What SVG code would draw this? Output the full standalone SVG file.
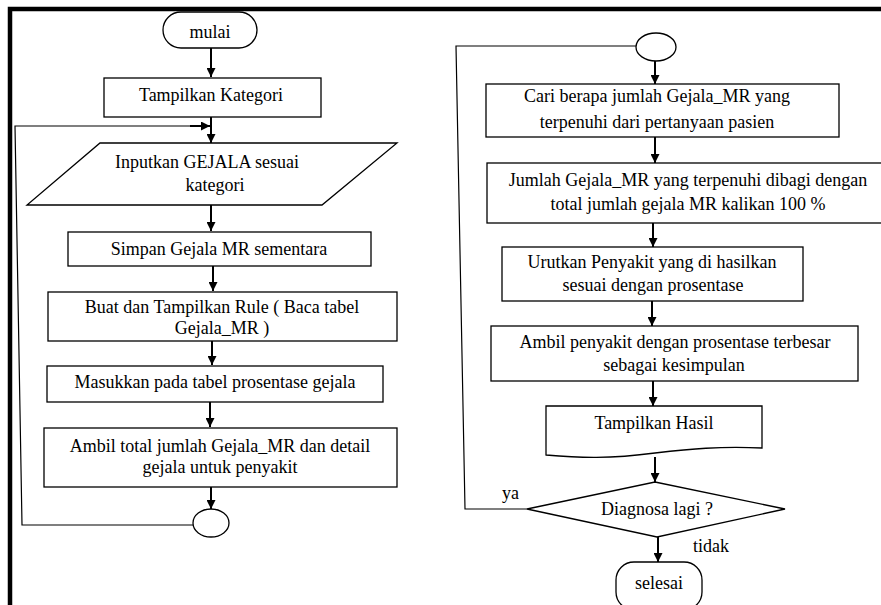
<svg xmlns="http://www.w3.org/2000/svg" width="881" height="605" viewBox="0 0 881 605">
<defs>
<marker id="ah" viewBox="0 0 10 10" markerUnits="userSpaceOnUse" markerWidth="10" markerHeight="9" refX="10" refY="5" orient="auto">
<path d="M0,0 L10,5 L0,10 Z" fill="#000"/>
</marker>
<style>
.box{fill:#fff;stroke:#000;stroke-width:1.3}
.t{font-family:"Liberation Serif","Times New Roman",serif;font-size:18px;fill:#000;text-anchor:middle}
.tl{font-family:"Liberation Serif","Times New Roman",serif;font-size:18px;fill:#000}
.ar{fill:none;stroke:#000;stroke-width:2;marker-end:url(#ah)}
.ln{fill:none;stroke:#000;stroke-width:1.2}
.bd{fill:none;stroke:#000;stroke-width:4.5}
</style>
</defs>
<rect width="881" height="605" fill="#fff"/>
<path class="bd" d="M10,605 V9 H881"/>

<g id="connectors">
<line class="ar" x1="211" y1="48" x2="211" y2="77"/>
<line class="ar" x1="211" y1="117" x2="211" y2="143"/>
<path class="ln" d="M193,525 H22 L15,126 H200"/>
<line class="ar" x1="190" y1="126" x2="210" y2="126"/>
<line class="ar" x1="211" y1="205" x2="211" y2="231"/>
<line class="ar" x1="213" y1="266" x2="213" y2="291"/>
<line class="ar" x1="212" y1="341" x2="212" y2="365"/>
<line class="ar" x1="210" y1="402" x2="210" y2="427"/>
<line class="ar" x1="211" y1="487" x2="211" y2="509"/>

<path class="ln" d="M527,509 H465 L456,46 H636"/>
<line class="ar" x1="655" y1="61" x2="655" y2="84"/>
<line class="ar" x1="655" y1="137" x2="655" y2="163"/>
<line class="ar" x1="653" y1="223" x2="653" y2="247"/>
<line class="ar" x1="652" y1="301" x2="652" y2="326"/>
<line class="ar" x1="653" y1="381" x2="653" y2="406"/>
<line class="ar" x1="655" y1="457" x2="655" y2="482"/>
<line class="ar" x1="658" y1="537" x2="658" y2="562"/>
</g>

<g id="mulai">
<rect class="box" x="163" y="12" width="94" height="36" rx="18"/>
<text class="t" x="210" y="38">mulai</text>
</g>
<g id="tampilkan-kategori">
<rect class="box" x="104" y="78" width="217" height="39"/>
<text class="t" x="211" y="101">Tampilkan Kategori</text>
</g>
<g id="inputkan-gejala">
<polygon class="box" points="100,143 397,143 322,205 27,205"/>
<text class="t" x="207" y="168">Inputkan GEJALA sesuai</text>
<text class="t" x="215" y="191">kategori</text>
</g>
<g id="simpan">
<rect class="box" x="68" y="232" width="303" height="34"/>
<text class="t" x="219" y="255">Simpan Gejala MR sementara</text>
</g>
<g id="buat-rule">
<rect class="box" x="48" y="292" width="349" height="49"/>
<text class="t" x="222" y="313">Buat dan Tampilkan Rule ( Baca tabel</text>
<text class="t" x="222" y="334">Gejala_MR )</text>
</g>
<g id="masukkan">
<rect class="box" x="47" y="366" width="336" height="36"/>
<text class="t" x="215" y="388">Masukkan pada tabel prosentase gejala</text>
</g>
<g id="ambil-total">
<rect class="box" x="44" y="428" width="353" height="59"/>
<text class="t" x="220" y="452">Ambil total jumlah Gejala_MR dan detail</text>
<text class="t" x="220" y="473">gejala untuk penyakit</text>
</g>
<g id="connector-left">
<ellipse class="box" cx="211" cy="523" rx="18" ry="14"/>
</g>

<g id="connector-right">
<ellipse class="box" cx="656" cy="47" rx="20" ry="14"/>
</g>
<g id="cari">
<rect class="box" x="486" y="84" width="353" height="53"/>
<text class="t" x="657" y="102">Cari berapa jumlah Gejala_MR yang</text>
<text class="t" x="657" y="128">terpenuhi dari pertanyaan pasien</text>
</g>
<g id="jumlah">
<rect class="box" x="487" y="163" width="396" height="60"/>
<text class="t" x="688" y="186">Jumlah Gejala_MR yang terpenuhi dibagi dengan</text>
<text class="t" x="688" y="210">total jumlah gejala MR kalikan 100 %</text>
</g>
<g id="urutkan">
<rect class="box" x="502" y="247" width="301" height="54"/>
<text class="t" x="652" y="268">Urutkan Penyakit yang di hasilkan</text>
<text class="t" x="653" y="291">sesuai dengan prosentase</text>
</g>
<g id="ambil-penyakit">
<rect class="box" x="491" y="326" width="367" height="55"/>
<text class="t" x="675" y="348">Ambil penyakit dengan prosentase terbesar</text>
<text class="t" x="674" y="371">sebagai kesimpulan</text>
</g>
<g id="tampilkan-hasil">
<path class="box" d="M546,406 H762 V448 C720,446 690,449 655,453 C610,459 580,458 546,455 Z"/>
<text class="t" x="654" y="429">Tampilkan Hasil</text>
</g>
<g id="diagnosa">
<polygon class="box" points="655,482 785,509 657,537 527,509"/>
<text class="t" x="657" y="515">Diagnosa lagi ?</text>
<text class="tl" x="502" y="499">ya</text>
<text class="tl" x="693" y="552">tidak</text>
</g>
<g id="selesai">
<rect class="box" x="616" y="562" width="86" height="48" rx="18"/>
<text class="t" x="659" y="589">selesai</text>
</g>
</svg>
